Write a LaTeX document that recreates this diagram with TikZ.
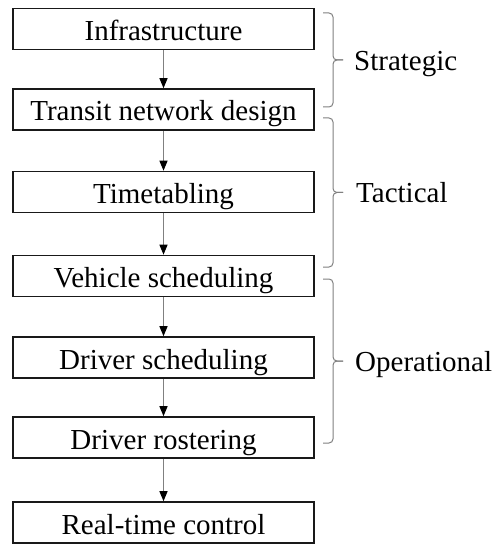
\documentclass[tikz,border=0pt]{standalone}
\usepackage{fontspec}
\setmainfont{Liberation Serif}
\usetikzlibrary{arrows.meta}

% brace: top y, bottom y, middle y
\newcommand{\levelbrace}[3]{
	\draw [level] (323,#1) -| (333,#3) -- (343,#3);
	\draw [level] (323,#2) -| (333,#3) -- (343,#3);
}

\begin{document}
\begin{tikzpicture}[x=1pt,y=-1pt,
	stage/.style={draw=black!90, line width=1.6pt, minimum width=301pt, minimum height=41pt, inner sep=0pt, font=\fontsize{29}{34}\selectfont, text height=24pt, text depth=1pt},
	flow/.style={draw=gray, line width=1.3pt, -{Triangle[width=8pt,length=10pt,color=black]}},
	level/.style={draw=gray, line width=1pt, rounded corners=4pt},
	levellabel/.style={anchor=base west, inner sep=0pt, font=\fontsize{29}{34}\selectfont}]
	\useasboundingbox (0,0) rectangle (494,545);
	% Planning stages %
	\node [stage] (infra) at (163.5,29) {Infrastructure};
	\node [stage] (network) at (163.5,109.5) {Transit network design};
	\node [stage] (timetab) at (163.5,192) {Timetabling};
	\node [stage] (vehicle) at (163.5,276) {Vehicle scheduling};
	\node [stage] (driver) at (163.5,357.5) {Driver scheduling};
	\node [stage] (roster) at (163.5,437.5) {Driver rostering};
	\node [stage] (realtime) at (163.5,522.5) {Real-time control};
	% Arrows %
	\draw [flow] (infra) -- (network);
	\draw [flow] (network) -- (timetab);
	\draw [flow] (timetab) -- (vehicle);
	\draw [flow] (vehicle) -- (driver);
	\draw [flow] (driver) -- (roster);
	\draw [flow] (roster) -- (realtime);
	% Planning levels %
	\levelbrace{13}{107}{60}
	\levelbrace{118}{267}{192.5}
	\levelbrace{279}{443}{361}
	\node [levellabel] (strategic) at (354,70.5) {Strategic};
	\node [levellabel] (tactical) at (356,203) {Tactical};
	\node [levellabel] (operational) at (355,371.5) {Operational};
\end{tikzpicture}
\end{document}
